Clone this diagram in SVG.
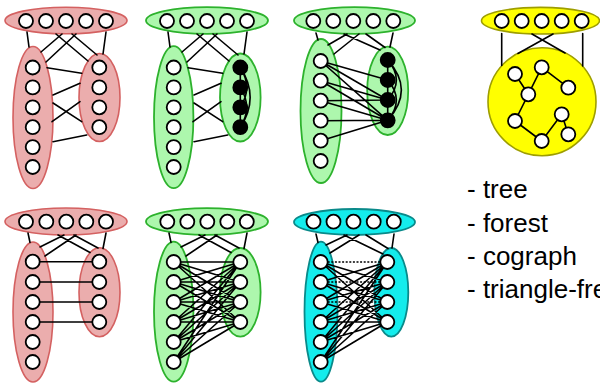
<svg xmlns="http://www.w3.org/2000/svg" xmlns:xlink="http://www.w3.org/1999/xlink" width="600" height="383" viewBox="0 0 600 383">
  <style>
    .wn { fill: #ffffff; stroke: #000000; stroke-width: 1.8; }
    .bn { fill: #000000; stroke: #000000; stroke-width: 1.8; }
    .e { fill: none; stroke: #000000; stroke-width: 1.6; stroke-linecap: round; }
    .dot { fill: none; stroke: #000000; stroke-width: 1.6; stroke-dasharray: 2 1.6; }
    .red { fill: #ebadad; stroke: #d46161; stroke-width: 1.6; }
    .grn { fill: #adf7ad; stroke: #2db22d; stroke-width: 1.8; }
    .cyn { fill: #14ecec; stroke: #0a8a8a; stroke-width: 1.8; }
    .yel { fill: #ffff00; stroke: #9e9e00; stroke-width: 1.6; }
    .lbl { font-family: "Liberation Sans", Arial, sans-serif; font-size: 26px; fill: #000000; }
  </style>
  <defs>
    <circle id="w" r="7" class="wn"/>
    <circle id="b" r="7" class="bn"/>
  </defs>

  <!-- vertex classes (ellipses) -->
  <g id="clusters">
    <g id="p1-top-set"><ellipse cx="66" cy="20.5" rx="61" ry="13.3" class="red"/></g>
    <g id="p1-left-set"><ellipse cx="33" cy="117.5" rx="20" ry="71" class="red"/></g>
    <g id="p1-right-set"><ellipse cx="99.5" cy="97.5" rx="20.5" ry="44" class="red"/></g>

    <g id="p2-top-set"><ellipse cx="207" cy="20.5" rx="61" ry="13.3" class="grn"/></g>
    <g id="p2-left-set"><ellipse cx="173.7" cy="117.2" rx="19.7" ry="71" class="grn"/></g>
    <g id="p2-right-set"><ellipse cx="240.3" cy="97.5" rx="20.3" ry="44" class="grn"/></g>

    <g id="p3-top-set"><ellipse cx="354.5" cy="20.5" rx="60.5" ry="13.3" class="grn"/></g>
    <g id="p3-left-set"><ellipse cx="321" cy="111" rx="20.5" ry="72" class="grn"/></g>
    <g id="p3-right-set"><ellipse cx="387.7" cy="90.8" rx="20.5" ry="44.2" class="grn"/></g>

    <g id="p4-top-set"><ellipse cx="66" cy="221.5" rx="61" ry="13.5" class="red"/></g>
    <g id="p4-left-set"><ellipse cx="33" cy="312" rx="20" ry="70" class="red"/></g>
    <g id="p4-right-set"><ellipse cx="99.5" cy="292.2" rx="20.5" ry="44.5" class="red"/></g>

    <g id="p5-top-set"><ellipse cx="207" cy="221.5" rx="61" ry="13.3" class="grn"/></g>
    <g id="p5-left-set"><ellipse cx="173.7" cy="311.7" rx="19.7" ry="70" class="grn"/></g>
    <g id="p5-right-set"><ellipse cx="240.3" cy="292.3" rx="20.3" ry="44.3" class="grn"/></g>

    <g id="p6-top-set"><ellipse cx="354.5" cy="222" rx="60.5" ry="13" class="cyn"/></g>
    <g id="p6-left-set"><ellipse cx="321" cy="311.7" rx="16.5" ry="70" class="cyn"/></g>
    <g id="p6-right-set"><ellipse cx="391.3" cy="292.3" rx="17" ry="44.3" class="cyn"/></g>

    <g id="p7-top-set"><ellipse cx="540.5" cy="20.7" rx="59" ry="13.3" class="yel"/></g>
    <g id="p7-tree-set"><circle cx="542" cy="101.7" r="54" class="yel"/></g>
  </g>

  <!-- edges -->
  <g id="connectors">
    <!-- panel 1: joins between classes -->
    <path class="e" d="M27,32L29,47 M62,34L41,52 M76,34L46,62 M56,34L88,61 M72,34L97,55 M106,32L103,54
      M47,67.7L81.7,73.3 M53,95L80,83.3 M53,103L81.7,121.7 M52,121.7L80,101.7 M53,141.7L86.7,135"/>
    <!-- panel 2 -->
    <path class="e" d="M168,32L170,47 M203,34L182,52 M217,34L187,62 M197,34L229,61 M213,34L238,55 M247,32L244,54
      M188,67.7L222.7,73.3 M194,95L221,83.3 M194,103L222.7,121.7 M193,121.7L221,101.7 M194,141.7L227.7,135"/>
    <path class="e" d="M240.3,67.5V127.2 M240.3,67.5Q260,97.4 240.3,127.2 M240.3,67.5Q253,87.4 240.3,107.3 M240.3,87.4Q253,107.3 240.3,127.2"/>
    <!-- panel 3 -->
    <path class="e" d="M316,33L318,40 M347,34L328,45 M359,34L334,54 M344,34L380,50 M366,34L385,47.5 M393,33L390,47"/>
    <path class="e" d="M320.7,61L387.7,80 M320.7,61L387.7,100 M320.7,61L387.7,120.3
      M320.7,80.7L387.7,100 M320.7,80.7L387.7,120.3
      M320.7,100.7L387.7,100 M320.7,100.7L387.7,120.3
      M320.7,120.7L387.7,120.3 M320.7,140.7L387.7,120.3"/>
    <path class="e" d="M387.7,60V120.3 M387.7,60Q415,90 387.7,120.3 M387.7,60Q405,80 387.7,100 M387.7,80Q405,100 387.7,120.3"/>
    <!-- panel 4: matching -->
    <path class="e" d="M28,233L30,242.5 M64,235L40,247 M76,235L45,256 M58,235L90,252.5 M74,235L98,248 M106,233L103,248.5
      M32.7,261.7H99.3 M32.7,282H99.3 M32.7,302H99.3 M32.7,322H99.3"/>
    <!-- panel 5: complete bipartite -->
    <path class="e" d="M169,233L171,242.5 M205,235L181,247 M217,235L186,256 M199,235L231,252.5 M215,235L239,248 M247,233L244,248.5
      M173.7,262L240.3,262 M173.7,262L240.3,282 M173.7,262L240.3,302 M173.7,262L240.3,322
      M173.7,282L240.3,262 M173.7,282L240.3,282 M173.7,282L240.3,302 M173.7,282L240.3,322
      M173.7,302L240.3,262 M173.7,302L240.3,282 M173.7,302L240.3,302 M173.7,302L240.3,322
      M173.7,322L240.3,262 M173.7,322L240.3,282 M173.7,322L240.3,302 M173.7,322L240.3,322
      M173.7,342L240.3,262 M173.7,342L240.3,282 M173.7,342L240.3,302 M173.7,342L240.3,322
      M173.7,362L240.3,262 M173.7,362L240.3,282 M173.7,362L240.3,302 M173.7,362L240.3,322"/>
    <!-- panel 6: complete bipartite minus a matching (dotted non-edges) -->
    <path class="e" d="M316,234L318,242.5 M347,235L326,245 M359,235L330,253 M344,235L383,254 M366,235L388,248.5 M394,234L392,248
      M320.7,262L387.3,282 M320.7,262L387.3,302 M320.7,262L387.3,322
      M320.7,282L387.3,262 M320.7,282L387.3,302 M320.7,282L387.3,322
      M320.7,302L387.3,262 M320.7,302L387.3,282 M320.7,302L387.3,322
      M320.7,322L387.3,262 M320.7,322L387.3,282 M320.7,322L387.3,302 M320.7,322L387.3,322
      M320.7,342L387.3,262 M320.7,342L387.3,282 M320.7,342L387.3,302 M320.7,342L387.3,322
      M320.7,362L387.3,262 M320.7,362L387.3,282 M320.7,362L387.3,302 M320.7,362L387.3,322"/>
    <path class="dot" d="M327.7,262H380.3 M327.7,282H380.3 M327.7,302H380.3"/>
    <!-- panel 7: tree -->
    <path class="e" d="M501.7,33.5V65.5 M582.7,33.5V66 M532,34L565,53 M553,34L518,53.5
      M515,74L528.3,94.3 M528.3,94.3L541.7,67.3 M541.7,67.3L568.3,87.7 M528.3,94.3L515,121
      M515,121L541.7,141 M541.7,141L561.7,114.3 M561.7,114.3L568.3,134.3"/>
  </g>

  <!-- panel 1 vertices -->
  <g id="p1-nodes">
    <g id="p1-t1"><use xlink:href="#w" x="26" y="21"/></g>
    <g id="p1-t2"><use xlink:href="#w" x="46" y="21"/></g>
    <g id="p1-t3"><use xlink:href="#w" x="66" y="21"/></g>
    <g id="p1-t4"><use xlink:href="#w" x="86" y="21"/></g>
    <g id="p1-t5"><use xlink:href="#w" x="106" y="21"/></g>
    <g id="p1-l1"><use xlink:href="#w" x="32.7" y="67.5"/></g>
    <g id="p1-l2"><use xlink:href="#w" x="32.7" y="87.4"/></g>
    <g id="p1-l3"><use xlink:href="#w" x="32.7" y="107.3"/></g>
    <g id="p1-l4"><use xlink:href="#w" x="32.7" y="127.2"/></g>
    <g id="p1-l5"><use xlink:href="#w" x="32.7" y="147.1"/></g>
    <g id="p1-l6"><use xlink:href="#w" x="32.7" y="167"/></g>
    <g id="p1-r1"><use xlink:href="#w" x="99.3" y="67.5"/></g>
    <g id="p1-r2"><use xlink:href="#w" x="99.3" y="87.4"/></g>
    <g id="p1-r3"><use xlink:href="#w" x="99.3" y="107.3"/></g>
    <g id="p1-r4"><use xlink:href="#w" x="99.3" y="127.2"/></g>
  </g>

  <!-- panel 2 vertices -->
  <g id="p2-nodes">
    <g id="p2-t1"><use xlink:href="#w" x="167" y="21"/></g>
    <g id="p2-t2"><use xlink:href="#w" x="187" y="21"/></g>
    <g id="p2-t3"><use xlink:href="#w" x="207" y="21"/></g>
    <g id="p2-t4"><use xlink:href="#w" x="227" y="21"/></g>
    <g id="p2-t5"><use xlink:href="#w" x="247" y="21"/></g>
    <g id="p2-l1"><use xlink:href="#w" x="173.7" y="67.5"/></g>
    <g id="p2-l2"><use xlink:href="#w" x="173.7" y="87.4"/></g>
    <g id="p2-l3"><use xlink:href="#w" x="173.7" y="107.3"/></g>
    <g id="p2-l4"><use xlink:href="#w" x="173.7" y="127.2"/></g>
    <g id="p2-l5"><use xlink:href="#w" x="173.7" y="147.1"/></g>
    <g id="p2-l6"><use xlink:href="#w" x="173.7" y="167"/></g>
    <g id="p2-r1"><use xlink:href="#b" x="240.3" y="67.5"/></g>
    <g id="p2-r2"><use xlink:href="#b" x="240.3" y="87.4"/></g>
    <g id="p2-r3"><use xlink:href="#b" x="240.3" y="107.3"/></g>
    <g id="p2-r4"><use xlink:href="#b" x="240.3" y="127.2"/></g>
  </g>

  <!-- panel 3 vertices -->
  <g id="p3-nodes">
    <g id="p3-t1"><use xlink:href="#w" x="313.3" y="21"/></g>
    <g id="p3-t2"><use xlink:href="#w" x="333.3" y="21"/></g>
    <g id="p3-t3"><use xlink:href="#w" x="353.3" y="21"/></g>
    <g id="p3-t4"><use xlink:href="#w" x="373.3" y="21"/></g>
    <g id="p3-t5"><use xlink:href="#w" x="393.3" y="21"/></g>
    <g id="p3-l1"><use xlink:href="#w" x="320.7" y="61"/></g>
    <g id="p3-l2"><use xlink:href="#w" x="320.7" y="80.7"/></g>
    <g id="p3-l3"><use xlink:href="#w" x="320.7" y="100.7"/></g>
    <g id="p3-l4"><use xlink:href="#w" x="320.7" y="120.7"/></g>
    <g id="p3-l5"><use xlink:href="#w" x="320.7" y="140.7"/></g>
    <g id="p3-l6"><use xlink:href="#w" x="320.7" y="161"/></g>
    <g id="p3-r1"><use xlink:href="#b" x="387.7" y="60"/></g>
    <g id="p3-r2"><use xlink:href="#b" x="387.7" y="80"/></g>
    <g id="p3-r3"><use xlink:href="#b" x="387.7" y="100"/></g>
    <g id="p3-r4"><use xlink:href="#b" x="387.7" y="120.3"/></g>
  </g>

  <!-- panel 4 vertices -->
  <g id="p4-nodes">
    <g id="p4-t1"><use xlink:href="#w" x="26" y="221.7"/></g>
    <g id="p4-t2"><use xlink:href="#w" x="46.3" y="221.7"/></g>
    <g id="p4-t3"><use xlink:href="#w" x="66.3" y="221.7"/></g>
    <g id="p4-t4"><use xlink:href="#w" x="86.3" y="221.7"/></g>
    <g id="p4-t5"><use xlink:href="#w" x="106" y="221.7"/></g>
    <g id="p4-l1"><use xlink:href="#w" x="32.7" y="261.7"/></g>
    <g id="p4-l2"><use xlink:href="#w" x="32.7" y="282"/></g>
    <g id="p4-l3"><use xlink:href="#w" x="32.7" y="302"/></g>
    <g id="p4-l4"><use xlink:href="#w" x="32.7" y="322"/></g>
    <g id="p4-l5"><use xlink:href="#w" x="32.7" y="342"/></g>
    <g id="p4-l6"><use xlink:href="#w" x="32.7" y="362"/></g>
    <g id="p4-r1"><use xlink:href="#w" x="99.3" y="261.7"/></g>
    <g id="p4-r2"><use xlink:href="#w" x="99.3" y="282"/></g>
    <g id="p4-r3"><use xlink:href="#w" x="99.3" y="302"/></g>
    <g id="p4-r4"><use xlink:href="#w" x="99.3" y="322"/></g>
  </g>

  <!-- panel 5 vertices -->
  <g id="p5-nodes">
    <g id="p5-t1"><use xlink:href="#w" x="167.3" y="221.7"/></g>
    <g id="p5-t2"><use xlink:href="#w" x="187.3" y="221.7"/></g>
    <g id="p5-t3"><use xlink:href="#w" x="207.3" y="221.7"/></g>
    <g id="p5-t4"><use xlink:href="#w" x="227.3" y="221.7"/></g>
    <g id="p5-t5"><use xlink:href="#w" x="246.8" y="221.7"/></g>
    <g id="p5-l1"><use xlink:href="#w" x="173.7" y="262"/></g>
    <g id="p5-l2"><use xlink:href="#w" x="173.7" y="282"/></g>
    <g id="p5-l3"><use xlink:href="#w" x="173.7" y="302"/></g>
    <g id="p5-l4"><use xlink:href="#w" x="173.7" y="322"/></g>
    <g id="p5-l5"><use xlink:href="#w" x="173.7" y="342"/></g>
    <g id="p5-l6"><use xlink:href="#w" x="173.7" y="362"/></g>
    <g id="p5-r1"><use xlink:href="#w" x="240.3" y="262"/></g>
    <g id="p5-r2"><use xlink:href="#w" x="240.3" y="282"/></g>
    <g id="p5-r3"><use xlink:href="#w" x="240.3" y="302"/></g>
    <g id="p5-r4"><use xlink:href="#w" x="240.3" y="322"/></g>
  </g>

  <!-- panel 6 vertices -->
  <g id="p6-nodes">
    <g id="p6-t1"><use xlink:href="#w" x="313.5" y="221.7"/></g>
    <g id="p6-t2"><use xlink:href="#w" x="333.5" y="221.7"/></g>
    <g id="p6-t3"><use xlink:href="#w" x="353.5" y="221.7"/></g>
    <g id="p6-t4"><use xlink:href="#w" x="373.7" y="221.7"/></g>
    <g id="p6-t5"><use xlink:href="#w" x="393.8" y="221.7"/></g>
    <g id="p6-l1"><use xlink:href="#w" x="320.7" y="262"/></g>
    <g id="p6-l2"><use xlink:href="#w" x="320.7" y="282"/></g>
    <g id="p6-l3"><use xlink:href="#w" x="320.7" y="302"/></g>
    <g id="p6-l4"><use xlink:href="#w" x="320.7" y="322"/></g>
    <g id="p6-l5"><use xlink:href="#w" x="320.7" y="342"/></g>
    <g id="p6-l6"><use xlink:href="#w" x="320.7" y="362"/></g>
    <g id="p6-r1"><use xlink:href="#w" x="387.3" y="262"/></g>
    <g id="p6-r2"><use xlink:href="#w" x="387.3" y="282"/></g>
    <g id="p6-r3"><use xlink:href="#w" x="387.3" y="302"/></g>
    <g id="p6-r4"><use xlink:href="#w" x="387.3" y="322"/></g>
  </g>

  <!-- panel 7 vertices -->
  <g id="p7-nodes">
    <g id="p7-t1"><use xlink:href="#w" x="501.7" y="21"/></g>
    <g id="p7-t2"><use xlink:href="#w" x="521.7" y="21"/></g>
    <g id="p7-t3"><use xlink:href="#w" x="541.7" y="21"/></g>
    <g id="p7-t4"><use xlink:href="#w" x="561.7" y="21"/></g>
    <g id="p7-t5"><use xlink:href="#w" x="581.7" y="21"/></g>
    <g id="p7-a"><use xlink:href="#w" x="515" y="74"/></g>
    <g id="p7-b"><use xlink:href="#w" x="541.7" y="67.3"/></g>
    <g id="p7-c"><use xlink:href="#w" x="568.3" y="87.7"/></g>
    <g id="p7-d"><use xlink:href="#w" x="528.3" y="94.3"/></g>
    <g id="p7-e"><use xlink:href="#w" x="515" y="121"/></g>
    <g id="p7-f"><use xlink:href="#w" x="541.7" y="141"/></g>
    <g id="p7-g"><use xlink:href="#w" x="561.7" y="114.3"/></g>
    <g id="p7-h"><use xlink:href="#w" x="568.3" y="134.3"/></g>
  </g>

  <!-- list of graph classes -->
  <g id="class-list">
    <text class="lbl" x="467" y="198">- tree</text>
    <text class="lbl" x="467" y="231.5">- forest</text>
    <text class="lbl" x="467" y="265">- cograph</text>
    <text class="lbl" x="467" y="298">- triangle-free</text>
  </g>
</svg>
